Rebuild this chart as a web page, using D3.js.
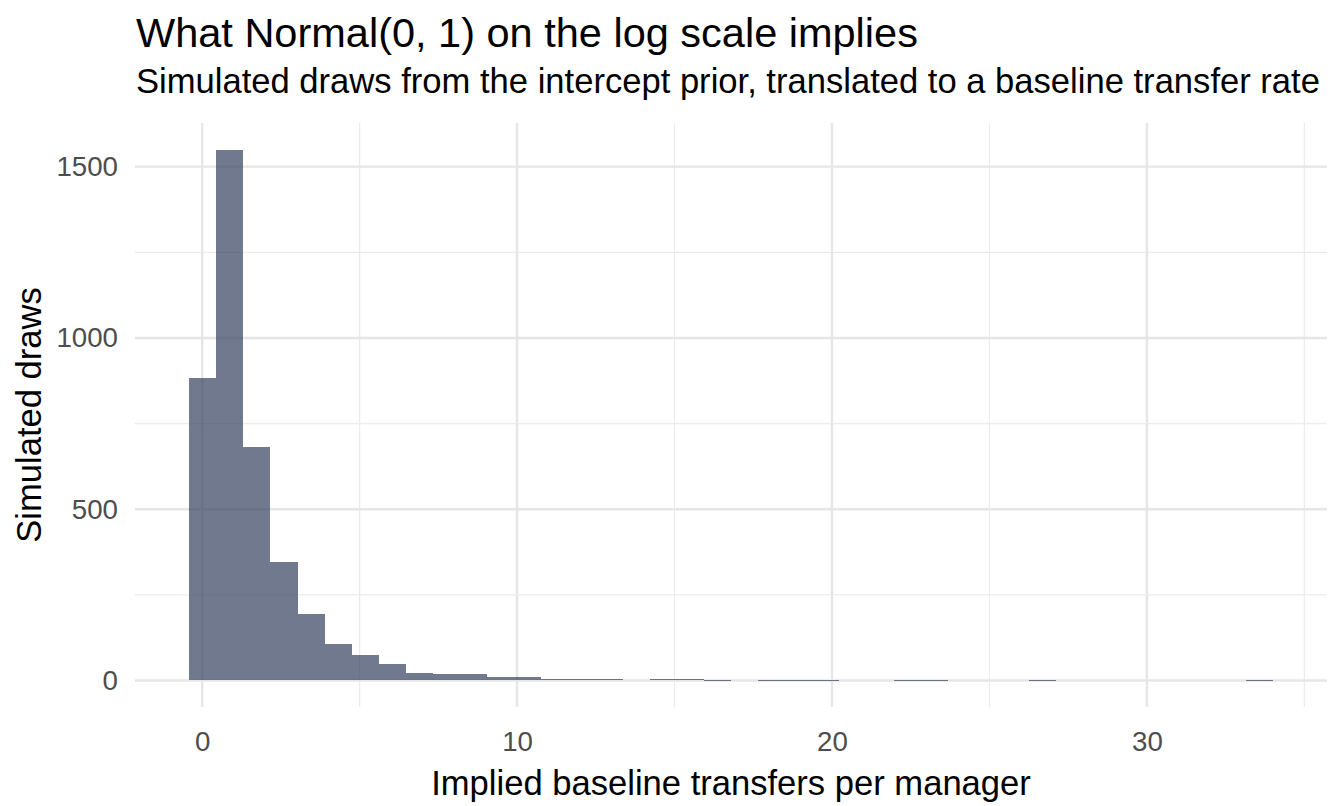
<!DOCTYPE html>
<html>
<head>
<meta charset="utf-8">
<script src="https://cdn.jsdelivr.net/npm/d3@7"></script>
<style>
  body { margin: 0; background: #fff; }
  text { font-family: "Liberation Sans", Arial, Helvetica, sans-serif; }
</style>
</head>
<body>
<div id="chart"></div>
<script>
// histogram: 40 equal bins
const binStart = -0.413;
const binWidth = 0.8603;
const counts = [883, 1550, 681, 346, 195, 107, 75, 47, 22, 20,
                19, 11, 11, 5, 4, 5, 0, 5, 3, 2,
                0, 2, 2, 1, 0, 0, 1, 2, 0, 0,
                0, 1, 0, 0, 0, 0, 0, 0, 0, 1];
const xTicks = [0, 10, 20, 30];
const xMinor = [5, 15, 25, 35];
const yTicks = [0, 500, 1000, 1500];
const yMinor = [250, 750, 1250];

const bins = counts.map((c, i) => ({
    x0: binStart + i * binWidth,
    x1: binStart + (i + 1) * binWidth,
    n: c
}));

const width = 1344, height = 806;
const panel = {left: 135, right: 1327, top: 123, bottom: 707};

const svg = d3.select("#chart")
    .append("svg")
    .attr("width", width)
    .attr("height", height);

svg.append("rect")
    .attr("width", width)
    .attr("height", height)
    .attr("fill", "#fff");

// ggplot style 5% expansion
const xLo = bins[0].x0, xHi = bins[bins.length - 1].x1;
const xPad = (xHi - xLo) * 0.05;
const x = d3.scaleLinear()
    .domain([xLo - xPad, xHi + xPad])
    .range([panel.left, panel.right]);

const yMax = d3.max(counts);
const y = d3.scaleLinear()
    .domain([-yMax * 0.05, yMax * 1.05])
    .range([panel.bottom, panel.top]);

// grid
const grid = svg.append("g");
grid.selectAll(".xminor").data(xMinor).join("line")
    .attr("x1", d => x(d)).attr("x2", d => x(d))
    .attr("y1", panel.top).attr("y2", panel.bottom)
    .attr("stroke", "#ebebeb").attr("stroke-width", 1.2);
grid.selectAll(".yminor").data(yMinor).join("line")
    .attr("x1", panel.left).attr("x2", panel.right)
    .attr("y1", d => y(d)).attr("y2", d => y(d))
    .attr("stroke", "#ebebeb").attr("stroke-width", 1.2);
grid.selectAll(".xmajor").data(xTicks).join("line")
    .attr("x1", d => x(d)).attr("x2", d => x(d))
    .attr("y1", panel.top).attr("y2", panel.bottom)
    .attr("stroke", "#e6e6e6").attr("stroke-width", 2.4);
grid.selectAll(".ymajor").data(yTicks).join("line")
    .attr("x1", panel.left).attr("x2", panel.right)
    .attr("y1", d => y(d)).attr("y2", d => y(d))
    .attr("stroke", "#e6e6e6").attr("stroke-width", 2.4);

// bars
svg.append("g")
    .attr("shape-rendering", "crispEdges")
    .selectAll("rect")
    .data(bins.filter(d => d.n > 0))
    .join("rect")
    .attr("x", d => x(d.x0))
    .attr("width", d => x(d.x1) - x(d.x0))
    .attr("y", d => y(d.n))
    .attr("height", d => Math.max(1, y(0) - y(d.n)))
    .attr("fill", "#34405e")
    .attr("fill-opacity", 0.7);

// axes (ticks hidden like theme_minimal)
const xAxis = svg.append("g")
    .attr("transform", `translate(0,${panel.bottom})`)
    .call(d3.axisBottom(x).tickValues(xTicks).tickSize(0).tickPadding(24));
xAxis.select(".domain").remove();
xAxis.selectAll("text")
    .attr("fill", "#4d4d4d")
    .style("font-size", "27.7px")
    .style("font-family", "Liberation Sans, Arial, sans-serif");

const yAxis = svg.append("g")
    .attr("transform", `translate(${panel.left},0)`)
    .call(d3.axisLeft(y).tickValues(yTicks).tickFormat(d3.format("d")).tickSize(0).tickPadding(17));
yAxis.select(".domain").remove();
yAxis.selectAll("text")
    .attr("fill", "#4d4d4d")
    .style("font-size", "27.7px")
    .style("font-family", "Liberation Sans, Arial, sans-serif");

// titles
svg.append("text")
    .attr("x", 136)
    .attr("y", 47)
    .style("font-size", "41.5px")
    .text("What Normal(0, 1) on the log scale implies");

svg.append("text")
    .attr("x", 136)
    .attr("y", 93)
    .style("font-size", "34.6px")
    .text("Simulated draws from the intercept prior, translated to a baseline transfer rate");

svg.append("text")
    .attr("x", (panel.left + panel.right) / 2)
    .attr("y", 795)
    .attr("text-anchor", "middle")
    .style("font-size", "34.6px")
    .text("Implied baseline transfers per manager");

svg.append("text")
    .attr("transform", `translate(41,${(panel.top + panel.bottom) / 2}) rotate(-90)`)
    .attr("text-anchor", "middle")
    .style("font-size", "34.6px")
    .text("Simulated draws");
</script>
</body>
</html>
